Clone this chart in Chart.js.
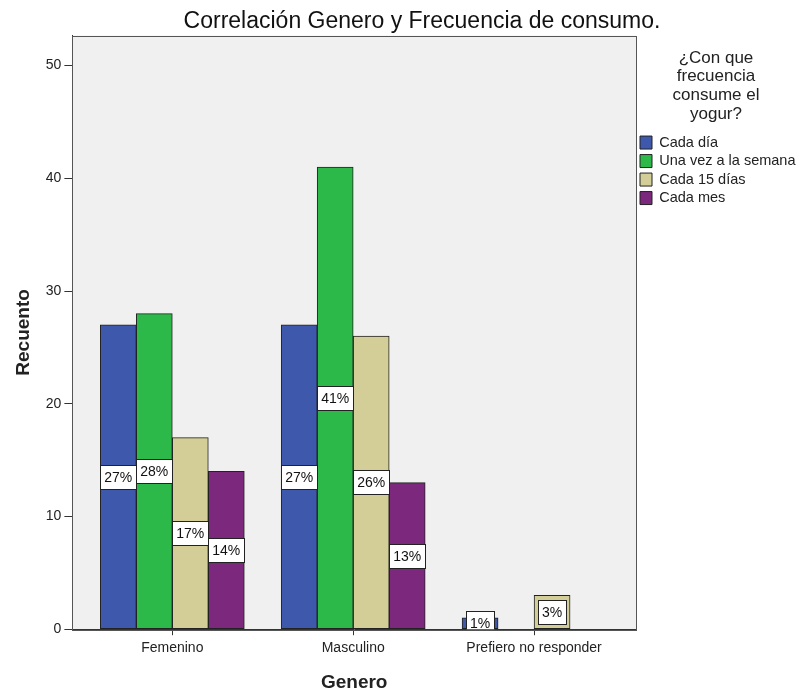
<!DOCTYPE html>
<html>
<head>
<meta charset="utf-8">
<script src="https://cdn.jsdelivr.net/npm/chart.js@4.4.0/dist/chart.umd.min.js"></script>
<style>
html, body { margin: 0; padding: 0; background: #fff; }
#wrap { width: 796px; height: 692px; }
</style>
</head>
<body>
<div id="wrap"><canvas id="myChart"></canvas></div>
<script>
// categorias y recuentos
var generos = ["Femenino", "Masculino", "Prefiero no responder"];
var cadaDia = [27, 27, 1];
var unaVezSemana = [28, 41, 0];
var cada15Dias = [17, 26, 3];
var cadaMes = [14, 13, 0];

// etiquetas de porcentaje dentro de las barras
var pctCadaDia = ["27%", "27%", "1%"];
var pctUnaVez = ["28%", "41%", ""];
var pctCada15 = ["17%", "26%", "3%"];
var pctCadaMes = ["14%", "13%", ""];

var yTicks = [0, 10, 20, 30, 40, 50];

Chart.defaults.font.family = '"Liberation Sans", Arial, sans-serif';
Chart.defaults.color = '#222';

var fondo = {
  id: 'fondo',
  beforeDraw: function(chart) {
    var a = chart.chartArea, ctx = chart.ctx;
    ctx.save();
    ctx.fillStyle = '#f0f0f0';
    ctx.fillRect(a.left, a.top, a.right - a.left, a.bottom - a.top);
    ctx.restore();
  },
  afterDraw: function(chart) {
    var a = chart.chartArea, ctx = chart.ctx;
    ctx.save();
    ctx.strokeStyle = '#555';
    ctx.lineWidth = 1;
    ctx.strokeRect(Math.round(a.left) + 0.5, Math.round(a.top) + 0.5,
      Math.round(a.right - a.left), Math.round(a.bottom - a.top));
    ctx.restore();
  },
  afterLayout: function(chart) {
    // SPSS centra el titulo un poco a la derecha
    if (chart.titleBlock) chart.titleBlock.left = 48;
  }
};

var porcentajes = [pctCadaDia, pctUnaVez, pctCada15, pctCadaMes];

var etiquetas = {
  id: 'etiquetas',
  afterDatasetsDraw: function(chart) {
    var ctx = chart.ctx, a = chart.chartArea;
    ctx.save();
    ctx.beginPath();
    ctx.rect(a.left, a.top, a.right - a.left, a.bottom - a.top);
    ctx.clip();
    ctx.font = '14px "Liberation Sans", Arial, sans-serif';
    ctx.textAlign = 'center';
    ctx.textBaseline = 'middle';
    chart.data.datasets.forEach(function(ds, di) {
      chart.getDatasetMeta(di).data.forEach(function(bar, i) {
        var txt = porcentajes[di][i];
        if (!txt) return;
        var cy = (bar.y + bar.base) / 2;
        var w = Math.round(ctx.measureText(txt).width + 8), h = 24;
        var x0 = Math.round(bar.x - w / 2) + 0.5, y0 = Math.round(cy - h / 2) + 0.5;
        ctx.fillStyle = '#fff';
        ctx.fillRect(x0, y0, w, h);
        ctx.strokeStyle = '#222';
        ctx.lineWidth = 1;
        ctx.strokeRect(x0, y0, w, h);
        ctx.fillStyle = '#111';
        ctx.fillText(txt, bar.x, cy + 1);
      });
    });
    ctx.restore();
  }
};

// las barras con valor 0 no se dibujan
function sinBordeCero(c) { return c.raw === 0 ? 0 : 1; }
function colorBarra(col) {
  return function(c) { return c.raw === 0 ? 'rgba(0,0,0,0)' : col; };
}

var ctx = document.getElementById("myChart");
var myChart = new Chart(ctx, {
  type: 'bar',
  data: {
    labels: generos.map(function(g, i) { return i; }),
    datasets: [
      { label: "Cada día", data: cadaDia, backgroundColor: colorBarra("#3e58ab"), borderColor: "#222", borderWidth: sinBordeCero },
      { label: "Una vez a la semana", data: unaVezSemana, backgroundColor: colorBarra("#2db84a"), borderColor: "#222", borderWidth: sinBordeCero },
      { label: "Cada 15 días", data: cada15Dias, backgroundColor: colorBarra("#d3ce97"), borderColor: "#222", borderWidth: sinBordeCero },
      { label: "Cada mes", data: cadaMes, backgroundColor: colorBarra("#7c287c"), borderColor: "#222", borderWidth: sinBordeCero }
    ]
  },
  options: {
    responsive: true,
    maintainAspectRatio: false,
    animation: false,
    barThickness: 36,
    borderSkipped: false,
    layout: { padding: { left: 8, right: 0, top: 0, bottom: 0 } },
    scales: {
      x: {
        type: 'linear',
        offset: false,
        min: -0.5525,
        max: 2.5635,
        afterBuildTicks: function(s) {
          s.ticks = generos.map(function(g, i) { return { value: i }; });
        },
        ticks: {
          callback: function(v) { return generos[v]; },
          font: { size: 14 },
          color: '#222',
          padding: 5,
          maxRotation: 0,
          autoSkip: false
        },
        grid: { offset: false, drawOnChartArea: false, drawTicks: true, tickLength: 6, color: '#333' },
        border: { color: '#333', width: 1 },
        title: { display: true, text: 'Genero', font: { size: 19, weight: 'bold', lineHeight: 1 }, color: '#222', padding: { top: 11, bottom: 0 } }
      },
      y: {
        min: 0,
        max: 52.66,
        afterBuildTicks: function(s) {
          s.ticks = yTicks.map(function(v) { return { value: v }; });
        },
        ticks: { font: { size: 14 }, color: '#222', padding: 3 },
        grid: { drawOnChartArea: false, drawTicks: true, tickLength: 8, color: '#333' },
        border: { color: '#333', width: 1 },
        title: { display: true, text: 'Recuento', font: { size: 19, weight: 'bold' }, color: '#222', padding: { top: 4, bottom: 8 } }
      }
    },
    plugins: {
      title: {
        display: true,
        text: 'Correlación Genero y Frecuencia de consumo.',
        font: { size: 23, weight: 'normal' },
        color: '#111',
        padding: { top: 8, bottom: 0 }
      },
      legend: {
        position: 'right',
        align: 'start',
        fullSize: false,
        maxWidth: 160,
        title: {
          display: true,
          text: ['¿Con que', 'frecuencia', 'consume el', 'yogur?'],
          font: { size: 17, lineHeight: 1.1 },
          color: '#222',
          padding: { top: 14, bottom: 63 }
        },
        labels: {
          boxWidth: 12,
          boxHeight: 13,
          font: { size: 14.5 },
          color: '#222',
          padding: 4
        }
      },
      tooltip: { enabled: false }
    }
  },
  plugins: [fondo, etiquetas]
});
</script>
</body>
</html>
